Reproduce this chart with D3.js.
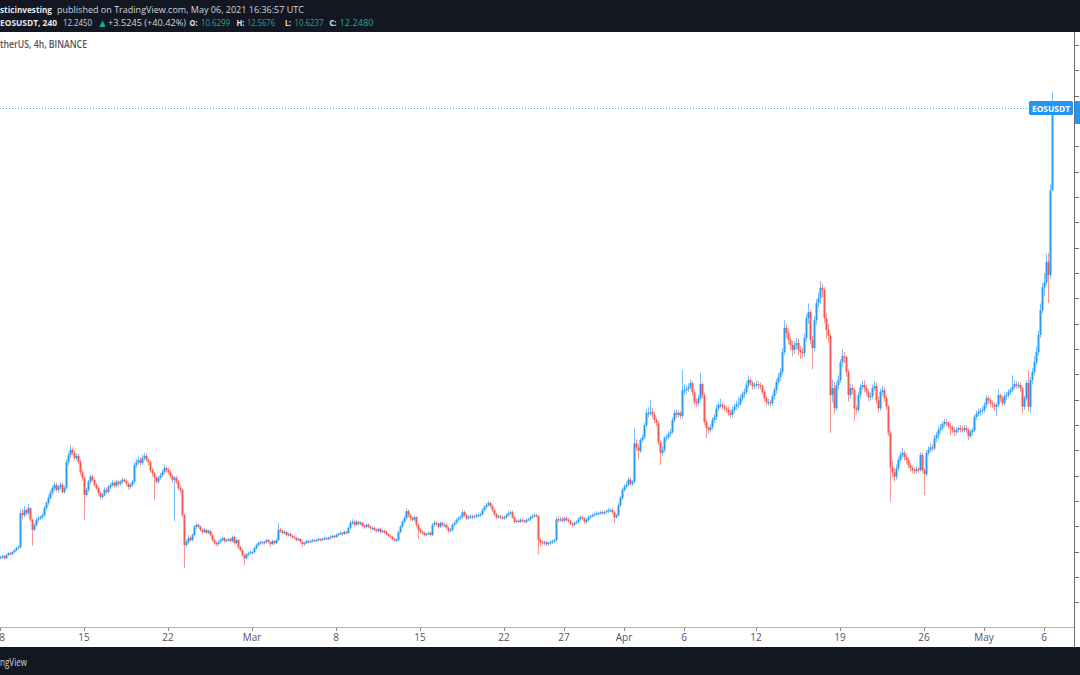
<!DOCTYPE html>
<html><head><meta charset="utf-8">
<script src="https://cdn.jsdelivr.net/npm/d3@7"></script>
<style>
html,body{margin:0;padding:0;background:#fff;overflow:hidden;}
svg{display:block;font-family:"Open Sans","DejaVu Sans",sans-serif;}
</style></head><body>
<svg id="c" width="1080" height="675"></svg>
<script>
// ---- DATA (EOSUSDT 4h, Binance) ----
const startTime = Date.UTC(2021, 1, 8, 0, 0);   // first 4h bar
const firstOpen = 3.38;
const closes = [
3.39,3.41,3.37,3.43,3.47,3.45,
3.49,3.53,3.57,3.59,4.26,4.22,
4.32,4.26,4.36,4.13,3.93,4.03,
4.13,4.16,4.18,4.22,4.36,4.46,
4.56,4.66,4.76,4.82,4.72,4.78,
4.82,4.68,4.76,5.27,5.41,5.51,
5.45,5.35,5.39,5.27,5.07,4.96,
4.62,4.72,4.88,4.98,4.92,4.82,
4.76,4.66,4.58,4.62,4.72,4.68,
4.78,4.82,4.86,4.80,4.88,4.84,
4.88,4.92,4.90,4.84,4.78,4.82,
4.88,5.21,5.27,5.31,5.25,5.35,
5.39,5.31,5.27,5.11,5.05,4.96,
4.88,4.96,5.01,5.07,5.15,5.11,
5.07,4.99,4.92,4.96,4.88,4.76,
4.72,4.22,3.63,3.69,3.77,3.73,
3.83,3.99,4.03,3.99,3.93,3.89,
3.93,3.87,3.91,3.83,3.73,3.67,
3.65,3.69,3.73,3.77,3.71,3.73,
3.75,3.71,3.79,3.67,3.73,3.59,
3.53,3.43,3.37,3.45,3.47,3.49,
3.49,3.57,3.63,3.67,3.69,3.67,
3.69,3.73,3.69,3.65,3.71,3.67,
3.73,3.93,3.91,3.87,3.89,3.83,
3.85,3.81,3.79,3.77,3.73,3.75,
3.69,3.65,3.67,3.71,3.69,3.71,
3.73,3.71,3.73,3.75,3.73,3.75,
3.77,3.75,3.77,3.79,3.81,3.79,
3.83,3.85,3.87,3.85,3.89,3.87,
3.97,4.07,4.09,4.03,4.09,4.05,
4.07,4.01,3.99,4.03,3.99,3.97,
3.97,3.93,3.91,3.95,3.89,3.91,
3.89,3.85,3.81,3.79,3.75,3.73,
3.73,3.89,3.99,4.09,4.16,4.30,
4.22,4.16,4.13,4.18,4.03,3.93,
3.89,3.87,3.83,3.85,3.87,3.83,
4.03,4.07,4.05,3.99,4.07,4.03,
4.03,3.97,3.91,3.93,4.03,4.07,
4.13,4.16,4.18,4.28,4.22,4.16,
4.18,4.20,4.18,4.20,4.22,4.22,
4.24,4.32,4.38,4.42,4.46,4.40,
4.32,4.24,4.18,4.20,4.18,4.16,
4.18,4.22,4.26,4.28,4.18,4.09,
4.11,4.09,4.13,4.11,4.09,4.13,
4.14,4.18,4.20,4.22,4.20,3.73,
3.69,3.67,3.69,3.65,3.67,3.69,
3.71,3.73,4.14,4.13,4.14,4.11,
4.16,4.13,4.11,4.05,4.03,4.07,
4.09,4.14,4.18,4.16,4.09,4.13,
4.18,4.20,4.22,4.24,4.26,4.26,
4.28,4.26,4.28,4.30,4.32,4.32,
4.28,4.18,4.22,4.42,4.56,4.72,
4.78,4.82,4.92,4.84,4.88,5.64,
5.56,5.49,5.70,5.76,6.00,6.24,
6.24,6.26,6.20,6.10,6.04,5.66,
5.45,5.51,5.74,5.76,5.82,5.86,
6.10,6.24,6.20,6.24,6.18,6.69,
6.69,6.71,6.75,6.83,6.65,6.45,
6.43,6.53,6.81,6.59,6.06,5.94,
5.90,5.96,6.10,6.16,6.33,6.40,
6.40,6.36,6.33,6.30,6.24,6.20,
6.30,6.36,6.40,6.42,6.53,6.61,
6.65,6.79,6.89,6.83,6.77,6.79,
6.81,6.79,6.77,6.65,6.53,6.45,
6.45,6.43,6.57,6.69,6.85,6.95,
7.05,7.44,7.92,7.82,7.68,7.58,
7.48,7.58,7.62,7.48,7.44,7.42,
7.72,8.11,8.23,7.68,7.52,8.07,
8.41,8.51,8.71,8.67,8.11,7.88,
7.76,6.59,6.73,6.33,6.79,6.89,
7.24,7.36,7.34,7.05,6.59,6.73,
6.69,6.33,6.30,6.59,6.75,6.79,
6.73,6.65,6.55,6.57,6.73,6.77,
6.49,6.33,6.65,6.69,6.53,6.36,
5.84,5.17,5.07,4.98,5.15,5.31,
5.41,5.45,5.37,5.31,5.21,5.15,
5.11,5.09,5.13,5.11,5.41,5.11,
5.03,5.45,5.51,5.56,5.54,5.74,
5.80,5.90,5.94,6.02,6.06,6.04,
5.98,5.96,5.90,5.86,5.90,5.94,
5.92,5.90,5.94,5.90,5.78,5.86,
5.90,6.16,6.22,6.26,6.28,6.30,
6.40,6.53,6.49,6.43,6.40,6.36,
6.40,6.59,6.53,6.43,6.57,6.59,
6.65,6.69,6.75,6.81,6.79,6.79,
6.73,6.36,6.53,6.83,6.36,6.89,
7.05,7.24,7.44,7.78,8.27,8.72,
8.82,9.22,8.96,10.63,12.248
];
const highs = [
3.42,3.44,3.43,3.45,3.49,3.50,
3.51,3.56,3.60,3.63,4.33,4.34,
4.40,4.35,4.44,4.38,4.16,4.07,
4.16,4.20,4.22,4.26,4.40,4.50,
4.62,4.72,4.80,4.88,4.86,4.82,
4.87,4.86,4.80,5.32,5.46,5.61,
5.56,5.50,5.44,5.43,5.33,5.12,
5.00,4.76,4.92,5.03,5.02,4.95,
4.86,4.80,4.70,4.66,4.77,4.76,
4.82,4.86,4.91,4.90,4.92,4.91,
4.92,4.97,4.95,4.93,4.87,4.86,
4.92,5.26,5.33,5.38,5.36,5.42,
5.45,5.43,5.35,5.30,5.16,5.08,
5.00,4.99,5.05,5.12,5.22,5.18,
5.16,5.12,5.03,4.99,5.00,4.92,
4.82,4.75,4.26,3.74,3.83,3.80,
3.86,4.03,4.08,4.06,4.02,3.96,
3.97,3.95,3.94,3.93,3.86,3.76,
3.70,3.72,3.76,3.80,3.79,3.76,
3.78,3.77,3.82,3.81,3.76,3.75,
3.62,3.56,3.46,3.47,3.50,3.52,
3.52,3.60,3.66,3.70,3.72,3.71,
3.72,3.76,3.75,3.71,3.74,3.73,
3.76,4.07,3.97,3.94,3.92,3.91,
3.88,3.88,3.84,3.82,3.79,3.78,
3.77,3.72,3.70,3.74,3.74,3.74,
3.76,3.75,3.76,3.78,3.77,3.78,
3.80,3.79,3.80,3.82,3.84,3.83,
3.86,3.88,3.91,3.89,3.92,3.91,
4.00,4.11,4.14,4.12,4.12,4.11,
4.10,4.09,4.04,4.06,4.06,4.02,
4.00,4.00,3.96,3.98,3.97,3.94,
3.94,3.92,3.87,3.84,3.81,3.78,
3.76,3.92,4.03,4.12,4.20,4.36,
4.33,4.26,4.20,4.22,4.20,4.06,
3.96,3.92,3.90,3.88,3.90,3.90,
4.06,4.11,4.10,4.07,4.10,4.09,
4.07,4.06,3.99,3.96,4.06,4.10,
4.16,4.20,4.22,4.33,4.31,4.25,
4.22,4.24,4.23,4.23,4.26,4.25,
4.27,4.36,4.42,4.46,4.50,4.49,
4.43,4.35,4.27,4.23,4.23,4.21,
4.21,4.25,4.30,4.32,4.31,4.21,
4.14,4.14,4.16,4.16,4.13,4.16,
4.17,4.21,4.24,4.26,4.25,4.22,
3.78,3.73,3.72,3.72,3.70,3.72,
3.74,3.76,4.18,4.20,4.19,4.18,
4.19,4.20,4.16,4.13,4.08,4.10,
4.12,4.18,4.22,4.21,4.18,4.16,
4.21,4.23,4.26,4.27,4.30,4.29,
4.31,4.31,4.31,4.33,4.36,4.36,
4.36,4.31,4.25,4.46,4.60,4.76,
4.83,4.88,4.97,4.96,4.92,5.94,
5.72,5.62,5.74,5.82,6.05,6.31,
6.35,6.50,6.33,6.25,6.15,6.08,
5.70,5.58,5.79,5.82,5.88,5.92,
6.15,6.30,6.29,6.30,6.28,7.09,
6.80,6.78,6.82,6.90,6.87,6.70,
6.52,6.60,7.03,6.85,6.64,6.12,
5.99,6.02,6.15,6.22,6.40,6.46,
6.52,6.45,6.42,6.38,6.36,6.30,
6.36,6.42,6.48,6.56,6.60,6.68,
6.72,6.86,6.98,6.94,6.88,6.85,
6.88,6.87,6.84,6.80,6.69,6.58,
6.52,6.50,6.62,6.75,6.91,7.02,
7.12,7.52,8.07,8.00,7.90,7.74,
7.66,7.66,7.72,7.70,7.56,7.52,
7.80,8.20,8.40,8.28,7.76,8.14,
8.48,8.62,8.84,8.79,8.72,8.20,
8.00,7.82,6.90,6.85,6.86,6.98,
7.30,7.50,7.44,7.38,7.10,6.82,
6.80,6.74,6.40,6.65,6.82,6.87,
6.88,6.79,6.70,6.64,6.80,6.87,
6.84,6.56,6.72,6.78,6.74,6.58,
6.40,5.90,5.30,5.14,5.22,5.38,
5.48,5.54,5.50,5.42,5.35,5.26,
5.20,5.16,5.18,5.17,5.46,5.45,
5.15,5.50,5.58,5.64,5.62,5.80,
5.86,5.98,6.02,6.08,6.12,6.12,
6.08,6.04,6.00,5.95,5.96,5.99,
6.00,5.98,6.00,6.00,5.94,5.92,
5.95,6.20,6.28,6.32,6.34,6.36,
6.45,6.60,6.58,6.54,6.48,6.45,
6.45,6.70,6.62,6.58,6.64,6.66,
6.71,6.74,6.98,6.88,6.86,6.85,
6.84,6.76,6.58,6.88,7.08,6.95,
7.12,7.36,7.55,7.86,8.40,8.80,
9.00,9.38,9.40,10.75,12.5676
];
const lows = [
3.35,3.37,3.35,3.36,3.41,3.43,
3.43,3.47,3.51,3.55,3.57,4.15,
4.18,4.22,4.22,4.09,3.62,3.90,
4.00,4.09,4.12,4.14,4.19,4.32,
4.42,4.52,4.62,4.70,4.68,4.66,
4.73,4.64,4.64,4.72,5.20,5.35,
5.40,5.30,5.31,5.22,5.01,4.90,
4.13,4.58,4.68,4.84,4.88,4.78,
4.72,4.61,4.52,4.54,4.59,4.64,
4.64,4.74,4.78,4.76,4.77,4.80,
4.80,4.84,4.86,4.80,4.72,4.74,
4.78,4.85,5.15,5.22,5.20,5.21,
5.30,5.27,5.20,5.06,4.99,4.52,
4.83,4.84,4.92,4.97,5.03,5.06,
5.02,4.95,4.86,4.10,4.84,4.70,
4.66,4.18,3.18,3.58,3.65,3.69,
3.70,3.80,3.95,3.96,3.90,3.85,
3.86,3.84,3.85,3.80,3.70,3.63,
3.61,3.62,3.66,3.71,3.68,3.69,
3.70,3.68,3.69,3.64,3.65,3.55,
3.50,3.40,3.24,3.35,3.42,3.45,
3.46,3.47,3.54,3.60,3.64,3.64,
3.64,3.66,3.66,3.60,3.63,3.64,
3.65,3.71,3.87,3.84,3.84,3.80,
3.80,3.78,3.76,3.74,3.70,3.71,
3.66,3.60,3.62,3.65,3.66,3.67,
3.68,3.69,3.69,3.71,3.70,3.71,
3.72,3.73,3.73,3.75,3.77,3.76,
3.77,3.80,3.83,3.82,3.83,3.84,
3.85,3.95,4.03,4.00,4.01,4.02,
4.02,3.98,3.95,3.96,3.96,3.94,
3.93,3.90,3.88,3.88,3.86,3.86,
3.86,3.82,3.78,3.76,3.72,3.70,
3.69,3.71,3.86,3.96,4.06,4.13,
4.18,4.12,4.09,4.10,3.98,3.75,
3.85,3.83,3.80,3.80,3.83,3.80,
3.81,4.00,4.01,3.96,3.97,4.00,
3.99,3.94,3.87,3.88,3.90,4.00,
4.04,4.10,4.13,4.15,4.19,4.12,
4.13,4.15,4.14,4.15,4.17,4.18,
4.19,4.21,4.29,4.35,4.39,4.36,
4.28,4.20,4.14,4.15,4.14,4.12,
4.12,4.15,4.19,4.23,4.15,4.05,
4.06,4.06,4.07,4.08,4.06,4.06,
4.10,4.11,4.15,4.17,4.17,3.45,
3.60,3.63,3.62,3.61,3.62,3.64,
3.65,3.67,3.70,4.08,4.09,4.07,
4.08,4.10,4.07,4.02,3.99,4.00,
4.04,4.06,4.11,4.12,4.05,4.06,
4.10,4.15,4.17,4.19,4.21,4.22,
4.23,4.23,4.23,4.25,4.27,4.28,
4.24,4.06,4.15,4.19,4.38,4.52,
4.68,4.74,4.79,4.80,4.80,4.85,
5.50,5.32,5.45,5.66,5.72,5.96,
6.15,6.18,6.14,6.04,5.98,5.60,
5.21,5.40,5.46,5.68,5.71,5.77,
5.82,6.05,6.14,6.15,6.12,6.14,
6.60,6.62,6.66,6.70,6.58,6.38,
6.36,6.38,6.48,6.52,6.00,5.74,
5.82,5.85,5.91,6.04,6.10,6.28,
6.33,6.30,6.27,6.24,6.18,6.12,
6.15,6.24,6.30,6.34,6.38,6.47,
6.54,6.60,6.73,6.78,6.70,6.71,
6.74,6.72,6.70,6.60,6.47,6.39,
6.38,6.37,6.39,6.51,6.62,6.79,
6.88,6.99,7.38,7.72,7.60,7.48,
7.36,7.40,7.50,7.38,7.30,7.32,
7.36,7.64,8.00,7.60,7.10,7.46,
7.98,8.30,8.40,8.52,8.02,7.70,
7.62,5.84,6.45,6.22,6.28,6.70,
6.84,7.15,7.22,6.95,6.46,6.52,
6.60,6.08,6.22,6.25,6.52,6.69,
6.66,6.58,6.47,6.48,6.52,6.68,
6.42,6.24,6.28,6.58,6.46,6.30,
5.78,4.48,4.96,4.88,4.92,5.10,
5.26,5.35,5.30,5.24,5.15,5.08,
5.04,5.03,5.05,5.06,5.08,5.06,
4.62,4.98,5.40,5.46,5.48,5.50,
5.66,5.72,5.84,5.90,5.96,5.98,
5.92,5.80,5.84,5.78,5.80,5.85,
5.86,5.85,5.86,5.84,5.70,5.74,
5.80,5.86,6.10,6.17,6.20,6.22,
6.24,6.34,6.42,6.36,6.33,6.28,
6.18,6.35,6.46,6.38,6.38,6.50,
6.54,6.60,6.64,6.70,6.72,6.72,
6.66,6.22,6.30,6.48,6.26,6.24,
6.80,6.98,7.18,7.38,7.72,8.20,
8.55,8.76,8.41,8.90,10.6237
];
const lastPrice = 12.248;
const timeTickDates = ["2021-02-08","2021-02-15","2021-02-22","2021-03-01","2021-03-08","2021-03-15","2021-03-22","2021-03-27","2021-04-01","2021-04-06","2021-04-12","2021-04-19","2021-04-26","2021-05-01","2021-05-06"];
const timeTickLabels = ["8","15","22","Mar","8","15","22","27","Apr","6","12","19","26","May","6"];
const priceTicks = [2.5,3,3.5,4,4.5,5,5.5,6,6.5,7,7.5,8,8.5,9,9.5,10,10.5,11,11.5,12,12.5,13,13.5];

// header texts: [text, x, width, color, weight]
const headerLine1 = [
  ["sticinvesting", 0, 52, "#e6e8ee", 700],
  ["published on TradingView.com, May 06, 2021 16:36:57 UTC", 57, 247, "#d1d4dc", 400]
];
const headerLine2 = [
  ["EOSUSDT, 240", 0, 57, "#e6e8ee", 700],
  ["12.2450", 63, 29, "#d1d4dc", 400],
  ["▲", 99.5, 6, "#26a69a", 400],
  ["+3.5245 (+40.42%)", 108, 78, "#d1d4dc", 400],
  ["O:", 189.5, 8, "#e6e8ee", 700],
  ["10.6299", 201, 29, "#26a69a", 400],
  ["H:", 236.5, 8, "#e6e8ee", 700],
  ["12.5676", 247, 28, "#26a69a", 400],
  ["L:", 285, 6, "#e6e8ee", 700],
  ["10.6237", 294.5, 29, "#26a69a", 400],
  ["C:", 329.5, 7, "#e6e8ee", 700],
  ["12.2480", 339.5, 34, "#26a69a", 400]
];

// ---- DRAW ----
const W = 1080, H = 675;
const plotRight = 1074, plotTop = 32, plotBottom = 627;
const svg = d3.select("#c");
const upColor = "#2196f3", downColor = "#ef5350";

const x = d3.scaleUtc()
  .domain([new Date(Date.UTC(2021,1,8)), new Date(Date.UTC(2021,4,6))])
  .range([0, 1044]);
const y = d3.scaleLinear().domain([2, 14]).range([627.68, 19.76]);

const bars = closes.map((c, i) => ({
  t: new Date(startTime + i * 4 * 3600 * 1000),
  o: i === 0 ? firstOpen : closes[i - 1],
  c: c, h: highs[i], l: lows[i]
}));

svg.append("rect").attr("width", W).attr("height", H).attr("fill", "#ffffff");

svg.append("defs").append("clipPath").attr("id", "plot")
  .append("rect").attr("x", 0).attr("y", plotTop).attr("width", plotRight).attr("height", plotBottom - plotTop);

// last price dotted line
svg.append("line")
  .attr("x1", 0).attr("x2", 1029)
  .attr("y1", Math.round(y(lastPrice)) - 0.5).attr("y2", Math.round(y(lastPrice)) - 0.5)
  .attr("stroke", upColor).attr("stroke-width", 1).attr("stroke-dasharray", "1,2").attr("opacity", 0.8);

const g = svg.append("g").attr("clip-path", "url(#plot)");
const cg = g.selectAll("g.bar").data(bars).join("g").attr("class", "bar");
cg.append("line")
  .attr("x1", d => x(d.t) + 0.5).attr("x2", d => x(d.t) + 0.5)
  .attr("y1", d => y(d.h)).attr("y2", d => y(d.l))
  .attr("stroke", d => d.c >= d.o ? upColor : downColor)
  .attr("stroke-width", 1).attr("opacity", 0.6);
cg.append("rect")
  .attr("x", d => x(d.t) - 0.5).attr("width", 2)
  .attr("y", d => y(Math.max(d.o, d.c)))
  .attr("height", d => Math.max(1.2, Math.abs(y(d.o) - y(d.c))))
  .attr("fill", d => d.c >= d.o ? upColor : downColor)
  .attr("opacity", 0.92);

// axes
const axisG = svg.append("g");
axisG.append("line").attr("x1", 0).attr("x2", plotRight).attr("y1", plotBottom + 0.5).attr("y2", plotBottom + 0.5)
  .attr("stroke", "#b2b5be").attr("stroke-width", 1);
axisG.append("line").attr("x1", plotRight + 0.5).attr("x2", plotRight + 0.5).attr("y1", plotTop).attr("y2", 647)
  .attr("stroke", "#6a6d78").attr("stroke-width", 1);

axisG.selectAll("line.pt").data(priceTicks).join("line").attr("class", "pt")
  .attr("x1", plotRight + 1).attr("x2", plotRight + 5)
  .attr("y1", d => Math.round(y(d)) + 0.5).attr("y2", d => Math.round(y(d)) + 0.5)
  .attr("stroke", "#6a6d78").attr("stroke-width", 1);

const tt = timeTickDates.map((d, i) => ({ t: new Date(d + "T00:00:00Z"), label: timeTickLabels[i] }));
axisG.selectAll("line.tt").data(tt).join("line").attr("class", "tt")
  .attr("x1", d => Math.round(x(d.t)) + 0.5).attr("x2", d => Math.round(x(d.t)) + 0.5)
  .attr("y1", plotBottom + 1).attr("y2", plotBottom + 4)
  .attr("stroke", "#8a8d96").attr("stroke-width", 1);
axisG.selectAll("text.tl").data(tt).join("text").attr("class", "tl")
  .attr("x", d => Math.max(x(d.t), 2)).attr("y", 640.5)
  .attr("text-anchor", "middle").attr("font-size", 10).attr("fill", "#50535e")
  .text(d => d.label);

// EOSUSDT labels
svg.append("rect").attr("x", 1029).attr("y", 101).attr("width", 44).attr("height", 14).attr("rx", 1.5).attr("fill", upColor);
svg.append("text").attr("x", 1051).attr("y", 111.8).attr("text-anchor", "middle")
  .attr("font-size", 9.5).attr("font-weight", 700).attr("fill", "#ffffff")
  .attr("textLength", 38).attr("lengthAdjust", "spacingAndGlyphs").text("EOSUSDT");
svg.append("rect").attr("x", 1075).attr("y", 101).attr("width", 5).attr("height", 23).attr("fill", upColor);

// header bar
svg.append("rect").attr("x", 0).attr("y", 0).attr("width", W).attr("height", 32).attr("fill", "#131722");
function drawLine(parts, baseline, size) {
  svg.append("g").selectAll("text").data(parts).join("text")
    .attr("x", d => d[1]).attr("y", baseline)
    .attr("font-size", size).attr("font-weight", d => d[4]).attr("fill", d => d[3])
    .attr("textLength", d => d[2]).attr("lengthAdjust", "spacingAndGlyphs")
    .text(d => d[0]);
}
drawLine(headerLine1, 12.5, 9);
drawLine(headerLine2, 26, 9);

// legend
svg.append("text").attr("x", 0).attr("y", 48).attr("font-size", 11).attr("font-weight", 600)
  .attr("fill", "#505258").attr("textLength", 87).attr("lengthAdjust", "spacingAndGlyphs")
  .text("therUS, 4h, BINANCE");

// footer bar
svg.append("rect").attr("x", 0).attr("y", 647).attr("width", W).attr("height", 28).attr("fill", "#131722");
svg.append("text").attr("x", 0).attr("y", 666).attr("font-size", 11).attr("fill", "#d1d4dc")
  .attr("textLength", 27).attr("lengthAdjust", "spacingAndGlyphs").text("ngView");
</script>
</body></html>
